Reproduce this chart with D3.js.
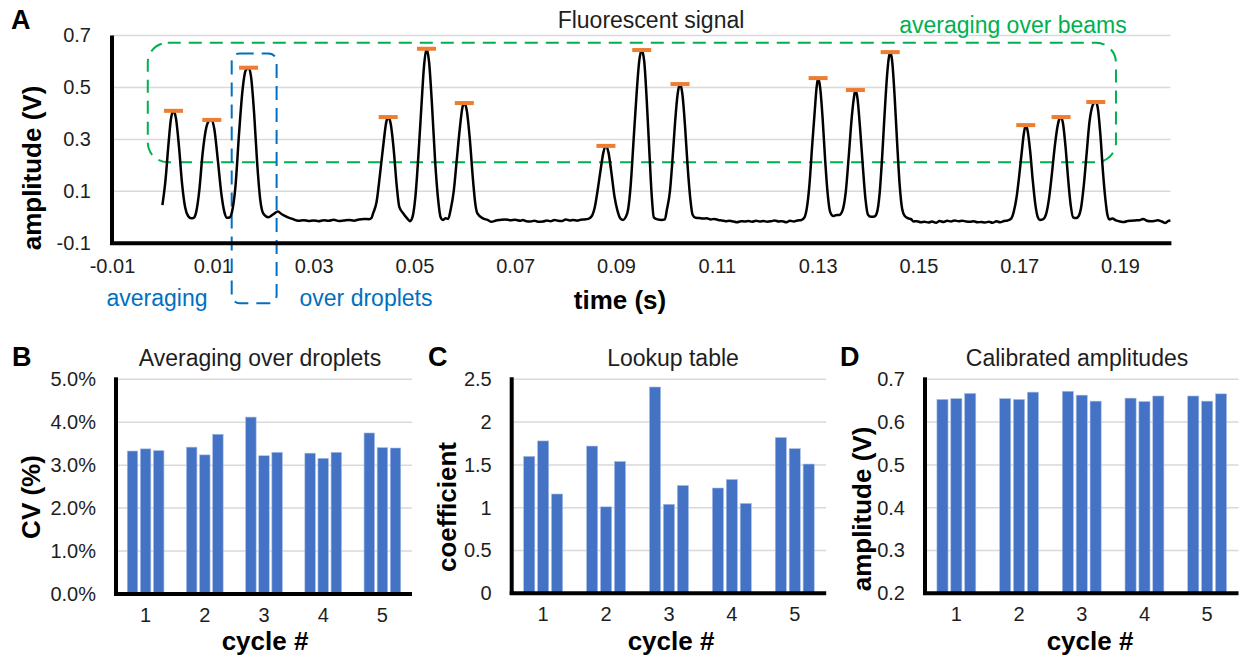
<!DOCTYPE html>
<html lang="en">
<head>
<meta charset="UTF-8">
<title>Fluorescent signal and calibration</title>
<style>
  body { margin: 0; background: #fff; }
  svg text { font-family: "Liberation Sans", Arial, sans-serif; fill: #1e1e1e; }
</style>
</head>
<body>
<div id="chart"></div>
<script src="https://cdnjs.cloudflare.com/ajax/libs/d3/7.8.5/d3.min.js"></script>
<script>
// ---- data ----
// panel A: fluorescent signal, [time (s), amplitude (V)]
const signal = [
  [0.0000, 0.047], [0.0006, 0.14], [0.0012, 0.28], [0.0017, 0.38], [0.0022, 0.410], [0.0027, 0.38],
  [0.0033, 0.27], [0.0039, 0.13], [0.0045, 0.04], [0.0051, 0.005], [0.0057, -0.004], [0.0062, -0.002],
  [0.0067, 0.02], [0.0073, 0.10], [0.0080, 0.25], [0.0087, 0.345], [0.0093, 0.372], [0.0098, 0.375],
  [0.0103, 0.34], [0.0110, 0.22], [0.0117, 0.09], [0.0123, 0.02], [0.0128, -0.002], [0.0133, -0.001],
  [0.0138, 0.02], [0.0145, 0.12], [0.0152, 0.32], [0.0159, 0.49], [0.0165, 0.565], [0.0171, 0.576],
  [0.0176, 0.54], [0.0182, 0.40], [0.0188, 0.21], [0.0194, 0.07], [0.0200, 0.015], [0.0210, 0.0],
  [0.0220, 0.012], [0.0229, 0.022], [0.0237, 0.012], [0.0247, 0.002], [0.0258, -0.006], [0.0270, -0.013],
  [0.0280, -0.011], [0.0290, -0.014], [0.0300, -0.012], [0.0310, -0.015], [0.0320, -0.011], [0.0330, -0.013],
  [0.0340, -0.009], [0.0350, -0.014], [0.0360, -0.012], [0.0370, -0.010], [0.0380, -0.013], [0.0390, -0.008],
  [0.0400, -0.006], [0.0410, -0.007], [0.0415, -0.002],
  [0.0418, 0.015], [0.0425, 0.06], [0.0432, 0.17], [0.0439, 0.29], [0.0444, 0.365], [0.0448, 0.386],
  [0.0453, 0.36], [0.0459, 0.26], [0.0465, 0.12], [0.0470, 0.04], [0.0478, 0.015], [0.0486, -0.005],
  [0.0491, -0.015],
  [0.0496, 0.0], [0.0502, 0.08], [0.0508, 0.24], [0.0514, 0.43], [0.0519, 0.58], [0.0524, 0.649],
  [0.0529, 0.60], [0.0535, 0.43], [0.0541, 0.22], [0.0547, 0.07], [0.0552, 0.0], [0.0556, -0.01],
  [0.0562, -0.004], [0.0567, -0.006],
  [0.0572, 0.03], [0.0578, 0.10], [0.0584, 0.22], [0.0590, 0.34], [0.0595, 0.42], [0.0599, 0.440],
  [0.0604, 0.41], [0.0610, 0.30], [0.0616, 0.15], [0.0621, 0.05], [0.0625, 0.015], [0.0636, -0.004],
  [0.0645, -0.010], [0.0653, -0.017], [0.0662, -0.012], [0.0670, -0.010],
  [0.0680, -0.008], [0.0690, -0.011], [0.0700, -0.009], [0.0710, -0.013], [0.0715, -0.010], [0.0722, -0.015],
  [0.0730, -0.016], [0.0738, -0.013], [0.0745, -0.017], [0.0755, -0.016], [0.0763, -0.012], [0.0770, -0.015],
  [0.0778, -0.010], [0.0785, -0.013], [0.0793, -0.014], [0.0800, -0.008], [0.0808, -0.012], [0.0815, -0.010],
  [0.0823, -0.013], [0.0830, -0.009], [0.0838, -0.008], [0.0845, -0.006],
  [0.0852, 0.005], [0.0858, 0.04], [0.0864, 0.11], [0.0870, 0.19], [0.0875, 0.25], [0.0880, 0.275],
  [0.0885, 0.25], [0.0891, 0.17], [0.0897, 0.08], [0.0903, 0.025], [0.0909, -0.005], [0.0914, -0.010],
  [0.0919, 0.0],
  [0.0924, 0.03], [0.0929, 0.12], [0.0935, 0.30], [0.0941, 0.48], [0.0946, 0.60], [0.0951, 0.644],
  [0.0956, 0.60], [0.0961, 0.45], [0.0966, 0.26], [0.0971, 0.08], [0.0975, 0.0], [0.0982, -0.008],
  [0.0990, -0.010], [0.0997, -0.008],
  [0.1001, 0.03], [0.1007, 0.10], [0.1012, 0.22], [0.1017, 0.36], [0.1022, 0.47], [0.1027, 0.513],
  [0.1032, 0.47], [0.1037, 0.35], [0.1042, 0.20], [0.1047, 0.08], [0.1052, 0.01], [0.1058, -0.002],
  [0.1065, -0.003],
  [0.1072, -0.005], [0.1080, -0.004], [0.1088, -0.008], [0.1095, -0.006], [0.1103, -0.010], [0.1110, -0.012],
  [0.1118, -0.015], [0.1125, -0.013], [0.1133, -0.016], [0.1140, -0.019], [0.1148, -0.015], [0.1155, -0.016],
  [0.1163, -0.014], [0.1170, -0.017], [0.1178, -0.013], [0.1185, -0.016], [0.1193, -0.014], [0.1200, -0.017],
  [0.1208, -0.015], [0.1215, -0.012], [0.1223, -0.016], [0.1230, -0.015], [0.1238, -0.019], [0.1245, -0.013],
  [0.1253, -0.016], [0.1260, -0.012], [0.1268, -0.010],
  [0.1274, 0.0], [0.1279, 0.04], [0.1284, 0.13], [0.1289, 0.27], [0.1294, 0.40], [0.1298, 0.50],
  [0.1301, 0.536], [0.1305, 0.50], [0.1310, 0.38], [0.1315, 0.22], [0.1320, 0.09], [0.1325, 0.02],
  [0.1331, 0.005], [0.1336, 0.008],
  [0.1343, 0.009], [0.1350, 0.03], [0.1356, 0.10], [0.1362, 0.24], [0.1368, 0.39], [0.1372, 0.46],
  [0.1375, 0.490], [0.1379, 0.46], [0.1384, 0.35], [0.1390, 0.19], [0.1395, 0.07], [0.1400, 0.01],
  [0.1406, 0.002], [0.1413, 0.003],
  [0.1418, 0.02], [0.1423, 0.09], [0.1428, 0.23], [0.1433, 0.40], [0.1438, 0.55], [0.1441, 0.61],
  [0.1444, 0.636], [0.1448, 0.60], [0.1453, 0.46], [0.1458, 0.28], [0.1463, 0.12], [0.1468, 0.03],
  [0.1473, 0.005], [0.1480, -0.004], [0.1486, -0.008], [0.1490, -0.016],
  [0.1497, -0.015], [0.1505, -0.019], [0.1512, -0.017], [0.1520, -0.020], [0.1527, -0.016], [0.1535, -0.021],
  [0.1542, -0.014], [0.1550, -0.018], [0.1557, -0.013], [0.1565, -0.016], [0.1572, -0.012], [0.1580, -0.015],
  [0.1587, -0.013], [0.1595, -0.016], [0.1602, -0.017], [0.1610, -0.015], [0.1617, -0.019], [0.1625, -0.018],
  [0.1632, -0.020], [0.1640, -0.017], [0.1647, -0.021], [0.1655, -0.015], [0.1662, -0.019], [0.1670, -0.014],
  [0.1677, -0.012],
  [0.1684, -0.005], [0.1689, 0.02], [0.1695, 0.08], [0.1700, 0.16], [0.1705, 0.25], [0.1709, 0.32],
  [0.1713, 0.355], [0.1717, 0.33], [0.1722, 0.25], [0.1727, 0.14], [0.1732, 0.05], [0.1737, 0.0],
  [0.1741, -0.010], [0.1747, -0.008],
  [0.1753, 0.01], [0.1759, 0.07], [0.1765, 0.17], [0.1771, 0.28], [0.1776, 0.35], [0.1780, 0.38],
  [0.1783, 0.386], [0.1787, 0.36], [0.1792, 0.27], [0.1797, 0.15], [0.1802, 0.05], [0.1807, 0.0],
  [0.1813, -0.003], [0.1818, 0.005],
  [0.1823, 0.04], [0.1828, 0.12], [0.1834, 0.25], [0.1839, 0.36], [0.1844, 0.42], [0.1848, 0.44],
  [0.1852, 0.444], [0.1856, 0.42], [0.1861, 0.32], [0.1866, 0.18], [0.1871, 0.07], [0.1875, 0.01],
  [0.1879, -0.008], [0.1885, -0.005],
  [0.1892, -0.012], [0.1900, -0.016], [0.1908, -0.018], [0.1915, -0.014], [0.1923, -0.013], [0.1930, -0.012],
  [0.1938, -0.011], [0.1946, -0.006], [0.1953, -0.013], [0.1960, -0.015], [0.1968, -0.014], [0.1975, -0.011],
  [0.1983, -0.016], [0.1990, -0.022], [0.1996, -0.014], [0.2000, -0.012]
];

// detected peak maxima (orange markers)
const peakTimes = [0.0022, 0.0098, 0.0171, 0.0448, 0.0524, 0.0599, 0.0880, 0.0951, 0.1027,
                   0.1301, 0.1375, 0.1444, 0.1713, 0.1783, 0.1852];
const peakAmps  = [0.410, 0.375, 0.576, 0.386, 0.649, 0.440, 0.275, 0.644, 0.513,
                   0.536, 0.490, 0.636, 0.355, 0.386, 0.444];

const signalXTicks = [-0.01, 0.01, 0.03, 0.05, 0.07, 0.09, 0.11, 0.13, 0.15, 0.17, 0.19];
const signalYTicks = [-0.1, 0.1, 0.3, 0.5, 0.7];

// panels B-D: three bars per cycle
const cycles = ["1", "2", "3", "4", "5"];
const cvValues = [[3.33, 3.38, 3.34], [3.42, 3.24, 3.72], [4.12, 3.22, 3.30], [3.28, 3.16, 3.30], [3.75, 3.41, 3.40]];
const lookupValues = [[1.60, 1.78, 1.16], [1.72, 1.01, 1.54], [2.41, 1.04, 1.26], [1.23, 1.33, 1.05], [1.82, 1.69, 1.51]];
const calibratedValues = [[0.653, 0.655, 0.667], [0.655, 0.653, 0.670], [0.672, 0.663, 0.649], [0.656, 0.648, 0.661], [0.661, 0.649, 0.666]];

const cvTicks = [0, 1, 2, 3, 4, 5];
const lookupTicks = [0, 0.5, 1, 1.5, 2, 2.5];
const calibratedTicks = [0.2, 0.3, 0.4, 0.5, 0.6, 0.7];

// ---- drawing ----
const W = 1244, H = 660;
const gridColor = "#d9d9d9";
const barColor = "#4472c4";

// excel prints a plain hyphen for negatives
const fmt = spec => d => d3.format(spec)(d).replace("\u2212", "-");

const svg = d3.select("#chart").append("svg")
  .attr("width", W)
  .attr("height", H);

svg.append("rect").attr("width", W).attr("height", H).attr("fill", "#fff");

function label(g, x, y, text, size, opts = {}) {
  return g.append("text")
    .attr("x", x).attr("y", y)
    .attr("text-anchor", opts.anchor || "middle")
    .attr("font-size", size)
    .attr("font-weight", opts.bold ? "bold" : null)
    .style("fill", opts.color || (opts.bold ? "#000" : "#1e1e1e"))
    .text(text);
}

function yLabel(x, y, text) {
  svg.append("text")
    .attr("transform", "translate(" + x + "," + y + ") rotate(-90)")
    .attr("text-anchor", "middle")
    .attr("font-size", 26)
    .attr("font-weight", "bold")
    .style("fill", "#000")
    .text(text);
}

// ---------- panel A ----------
const xA = d3.scaleLinear().domain([-0.01, 0.2]).range([112, 1170.4]);
const yA = d3.scaleLinear().domain([-0.1, 0.7]).range([243.3, 35.5]);

const gA = svg.append("g");

gA.selectAll(".grid").data(signalYTicks.filter(d => d > -0.1)).join("line")
  .attr("x1", xA.range()[0]).attr("x2", xA.range()[1])
  .attr("y1", d => yA(d)).attr("y2", d => yA(d))
  .attr("stroke", gridColor).attr("stroke-width", 1.5);

// y tick labels
gA.append("g")
  .attr("transform", "translate(" + xA.range()[0] + ",0)")
  .call(d3.axisLeft(yA).tickValues(signalYTicks).tickSize(0).tickPadding(21).tickFormat(fmt(".1f")))
  .call(g => g.select(".domain").remove())
  .call(g => g.selectAll("text").attr("font-size", 20).style("font-family", null).style("fill", "#1e1e1e"));

// x tick labels
gA.append("g")
  .attr("transform", "translate(0," + yA.range()[0] + ")")
  .call(d3.axisBottom(xA).tickValues(signalXTicks).tickSize(0).tickPadding(16).tickFormat(fmt(".2f")))
  .call(g => g.select(".domain").remove())
  .call(g => g.selectAll("text").attr("font-size", 20).style("font-family", null).style("fill", "#1e1e1e"));

// annotation boxes
gA.append("rect")
  .attr("x", xA(-0.0029)).attr("y", yA(0.672))
  .attr("width", xA(0.1892) - xA(-0.0029)).attr("height", yA(0.212) - yA(0.672))
  .attr("rx", 20).attr("ry", 20)
  .attr("fill", "none").attr("stroke", "#00b050").attr("stroke-width", 2)
  .attr("stroke-dasharray", "13,8");

gA.append("rect")
  .attr("x", xA(0.01375)).attr("y", yA(0.631))
  .attr("width", xA(0.02266) - xA(0.01375)).attr("height", yA(-0.331) - yA(0.631))
  .attr("rx", 8).attr("ry", 8)
  .attr("fill", "none").attr("stroke", "#0070c0").attr("stroke-width", 2)
  .attr("stroke-dasharray", "14,8");

// signal line
const line = d3.line()
  .x(d => xA(d[0]))
  .y(d => yA(d[1]))
  .curve(d3.curveMonotoneX);

gA.append("path")
  .datum(signal)
  .attr("fill", "none")
  .attr("stroke", "#000")
  .attr("stroke-width", 2.5)
  .attr("stroke-linejoin", "round")
  .attr("d", line);

// peak markers
gA.selectAll(".peak").data(peakTimes).join("rect")
  .attr("x", d => xA(d) - 9.5)
  .attr("y", (d, i) => yA(peakAmps[i]) - 2)
  .attr("width", 19).attr("height", 4)
  .attr("fill", "#ed7d31");

// axes lines
gA.append("line")
  .attr("x1", xA.range()[0]).attr("x2", xA.range()[0])
  .attr("y1", yA.range()[1]).attr("y2", yA.range()[0] + 1.5)
  .attr("stroke", "#000").attr("stroke-width", 4);
gA.append("line")
  .attr("x1", xA.range()[0] - 2).attr("x2", xA.range()[1] + 1)
  .attr("y1", yA.range()[0]).attr("y2", yA.range()[0])
  .attr("stroke", "#000").attr("stroke-width", 4);

label(gA, 11, 29, "A", 27, { anchor: "start", bold: true });
label(gA, 651, 28, "Fluorescent signal", 23);
label(gA, 1013, 33, "averaging over beams", 23, { color: "#00b050" });
label(gA, 157, 306, "averaging", 23, { color: "#0070c0" });
label(gA, 366, 306, "over droplets", 23, { color: "#0070c0" });
label(gA, 620, 309, "time (s)", 26, { bold: true });
yLabel(41, 168, "amplitude (V)");

// ---------- panels B-D ----------
function barPanel(p) {
  const g = svg.append("g");
  const x0 = d3.scaleBand().domain(cycles).range([p.left, p.right]);
  const step = x0.bandwidth();
  const x1 = d3.scaleBand().domain([0, 1, 2])
    .range([step * 0.19, step * 0.81]).paddingInner(0.2);
  const y = d3.scaleLinear().domain(p.domain).range([p.bottom, p.top]);

  g.selectAll(".grid").data(p.ticks.slice(1)).join("line")
    .attr("x1", p.left).attr("x2", p.right)
    .attr("y1", d => y(d)).attr("y2", d => y(d))
    .attr("stroke", gridColor).attr("stroke-width", 1.5);

  g.append("g")
    .attr("transform", "translate(" + p.left + ",0)")
    .call(d3.axisLeft(y).tickValues(p.ticks).tickSize(0).tickPadding(20).tickFormat(p.format))
    .call(a => a.select(".domain").remove())
    .call(a => a.selectAll("text").attr("font-size", 20).style("font-family", null).style("fill", "#1e1e1e"));

  g.append("g")
    .attr("transform", "translate(0," + p.bottom + ")")
    .call(d3.axisBottom(x0).tickSize(0).tickPadding(14))
    .call(a => a.select(".domain").remove())
    .call(a => a.selectAll("text").attr("font-size", 20).style("font-family", null).style("fill", "#1e1e1e"));

  g.selectAll(".cycle").data(p.values).join("g")
    .attr("transform", (d, i) => "translate(" + x0(cycles[i]) + ",0)")
    .selectAll("rect").data(d => d).join("rect")
    .attr("x", (d, j) => x1(j))
    .attr("width", x1.bandwidth())
    .attr("y", d => y(d))
    .attr("height", d => y(p.domain[0]) - y(d))
    .attr("fill", barColor)
    .attr("stroke", "#a9bfe6").attr("stroke-width", 0.6);

  g.append("line")
    .attr("x1", p.left).attr("x2", p.left)
    .attr("y1", p.top - 2).attr("y2", p.bottom + 1.5)
    .attr("stroke", "#000").attr("stroke-width", 4);
  g.append("line")
    .attr("x1", p.left - 2).attr("x2", p.right)
    .attr("y1", p.bottom).attr("y2", p.bottom)
    .attr("stroke", "#000").attr("stroke-width", 4);

  label(g, p.letterX, 366, p.letter, 27, { anchor: "start", bold: true });
  label(g, p.titleX, 366, p.title, 23);
  label(g, p.cycleX, 650, "cycle #", 26, { bold: true });
  yLabel(p.yLabelX, p.yLabelY, p.yLabel);
}

barPanel({
  left: 116, right: 412, top: 379.3, bottom: 594,
  domain: [0, 5], ticks: cvTicks, format: d => d.toFixed(1) + "%",
  values: cvValues, letter: "B", letterX: 12, title: "Averaging over droplets", titleX: 260,
  cycleX: 265, yLabel: "CV (%)", yLabelX: 40, yLabelY: 497
});

barPanel({
  left: 511.7, right: 826.2, top: 379.3, bottom: 593.3,
  domain: [0, 2.5], ticks: lookupTicks, format: d3.format("~g"),
  values: lookupValues, letter: "C", letterX: 428, title: "Lookup table", titleX: 673,
  cycleX: 671, yLabel: "coefficient", yLabelX: 456, yLabelY: 507
});

barPanel({
  left: 925, right: 1238.5, top: 379.3, bottom: 593.3,
  domain: [0.2, 0.7], ticks: calibratedTicks, format: d3.format(".1f"),
  values: calibratedValues, letter: "D", letterX: 840, title: "Calibrated amplitudes", titleX: 1077,
  cycleX: 1090, yLabel: "amplitude (V)", yLabelX: 871, yLabelY: 509
});
</script>
</body>
</html>
